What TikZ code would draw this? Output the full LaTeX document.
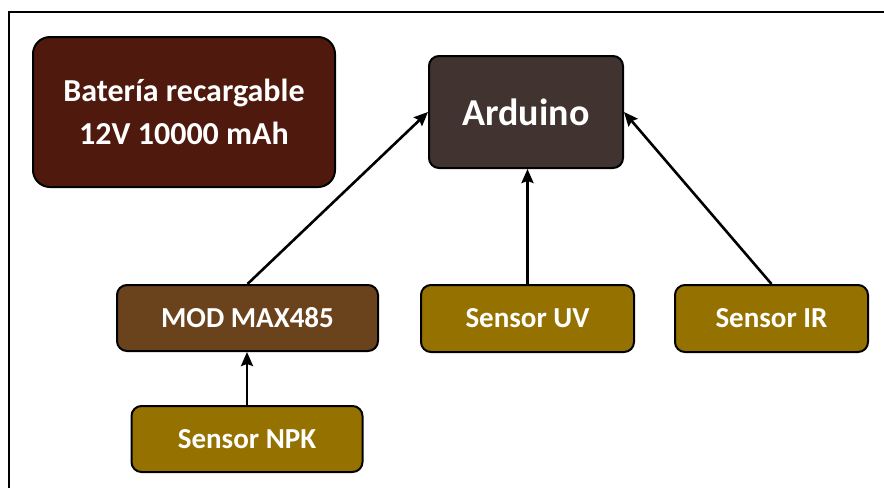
\documentclass[tikz,border=0pt]{standalone}
\usepackage{fontspec}
\setmainfont{Carlito}
\definecolor{BATmaroon}{HTML}{4F190D}
\definecolor{ARDbrown}{HTML}{403330}
\definecolor{MODbrown}{HTML}{6A431D}
\definecolor{SENgold}{HTML}{957200}
\usetikzlibrary{arrows.meta, positioning}

\begin{document}
\begin{tikzpicture}[x=1pt, y=-1pt,
      block/.style={draw=black, line width=2pt, rounded corners=10pt,
         text=white, font=\bfseries\fontsize{29}{42}\selectfont, align=center,
         inner sep=0pt},
      sensorbox/.style={block, fill=SENgold, minimum height=67pt},
      link/.style={-{Stealth[length=14pt, width=12pt, inset=2pt]}, line width=2.6pt}]
            \useasboundingbox (0,0) rectangle (884,488);
            % Frame (only top and left edges show)
            \draw[line width=1.2pt] (884,12) -- (9,12) -- (9,488);
            % Battery
            \node[block, fill=BATmaroon, rounded corners=17pt,
               font=\bfseries\fontsize{32}{43}\selectfont,
               minimum width=302pt, minimum height=150pt] (battery) at (184,112)
               {Batería recargable\\12V 10000 mAh};
            % Arduino
            \node[block, fill=ARDbrown, font=\bfseries\fontsize{38}{42}\selectfont,
               minimum width=194pt, minimum height=112pt] (arduino) at (526,112) {Arduino};
            % MAX485 module
            \node[block, fill=MODbrown, minimum width=261pt, minimum height=66pt]
               (modmax) at (247.5,318) {MOD MAX485};
            % Sensors
            \node[sensorbox, minimum width=213pt] (sensorUV) at (527.5,318.5) {Sensor UV};
            \node[sensorbox, minimum width=193pt] (sensorIR) at (771.5,318.5) {Sensor IR};
            \node[sensorbox, minimum width=231pt, minimum height=66pt]
               (sensorNPK) at (247,439) {Sensor NPK};
            % Connections
            \draw[link] (modmax.north) -- (arduino.west);
            \draw[link] (sensorUV.north) -- (sensorUV.north |- arduino.south);
            \draw[link] (sensorIR.north) -- (arduino.east);
            \draw[link] (sensorNPK.north) -- (sensorNPK.north |- modmax.south);
         \end{tikzpicture}
\end{document}
